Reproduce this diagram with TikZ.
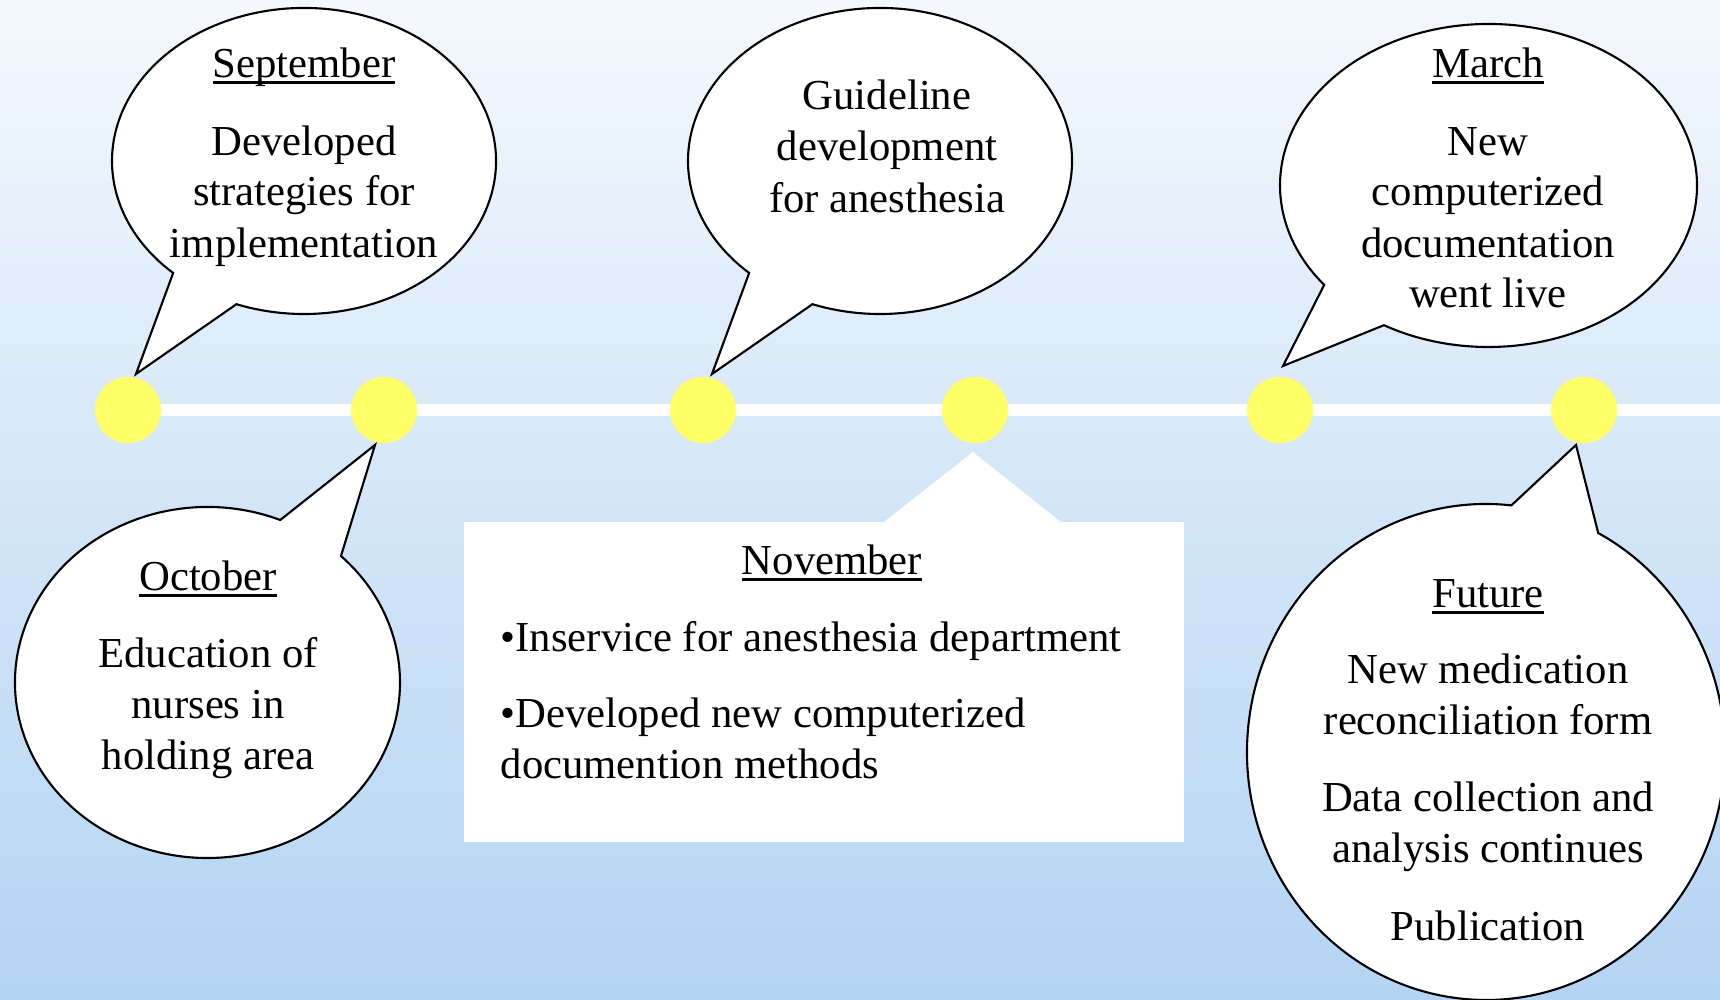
\documentclass[tikz,border=0pt]{standalone}
\usepackage{fontspec}
\setmainfont{Liberation Serif}
\definecolor{bgtop}{RGB}{244,248,253}
\definecolor{bgbot}{RGB}{179,212,243}
\definecolor{dotyellow}{RGB}{255,255,102}
\newcommand{\myul}[1]{\setbox0\hbox{#1}\rlap{\rule[-1.6pt]{\wd0}{0.6pt}}\box0}
\begin{document}
\begin{tikzpicture}[x=1mm,y=1mm,
  bubble/.style={draw=black, fill=white, line width=0.6pt, line join=miter},
  dot/.style={circle, fill=dotyellow, minimum size=6.6mm, inner sep=0pt},
  txt/.style={anchor=base, inner sep=0pt, yshift=-0.2mm, font=\fontsize{12.15}{14}\selectfont},
  txtl/.style={anchor=base west, inner sep=0pt, yshift=-0.2mm, font=\fontsize{12.15}{14}\selectfont}]
\useasboundingbox (0,0) rectangle (172,100);
\begin{scope}
\clip (0,0) rectangle (172,100);
\shade[top color=bgtop, bottom color=bgbot] (0,0) rectangle (172,100);
% timeline
\coordinate (c1) at (12.8,59);
\coordinate (c2) at (38.4,59);
\coordinate (c3) at (70.3,59);
\coordinate (c4) at (97.5,59);
\coordinate (c5) at (128.0,59);
\coordinate (c6) at (158.4,59);
\coordinate (lineend) at (172,59);
\draw[white, line width=1.2mm] (c1) -- (lineend);
\node[dot] (d1) at (c1) {};
\node[dot] (d2) at (c2) {};
\node[dot] (d3) at (c3) {};
\node[dot] (d4) at (c4) {};
\node[dot] (d5) at (c5) {};
\node[dot] (d6) at (c6) {};
% September bubble
\coordinate (sepc) at (30.4,83.9);
\coordinate (septip) at (13.6,62.6);
\draw[bubble] ([shift={(249.4:19.2mm and 15.3mm)}]sepc) arc[start angle=249.4, end angle=587.05, x radius=19.2mm, y radius=15.3mm] -- (septip) -- cycle;
\node[txt] (sep1) at (30.4,92.4) {\myul{September}};
\node[txt] (sep2) at (30.4,84.6) {Developed};
\node[txt] (sep3) at (30.4,79.6) {strategies for};
\node[txt] (sep4) at (30.4,74.4) {implementation};
% Guideline bubble
\coordinate (guic) at (88.0,83.9);
\coordinate (guitip) at (71.2,62.6);
\draw[bubble] ([shift={(249.4:19.2mm and 15.3mm)}]guic) arc[start angle=249.4, end angle=587.05, x radius=19.2mm, y radius=15.3mm] -- (guitip) -- cycle;
\node[txt] (gui1) at (88.7,89.2) {Guideline};
\node[txt] (gui2) at (88.7,84.1) {development};
\node[txt] (gui3) at (88.7,78.9) {for anesthesia};
% March bubble
\coordinate (marc) at (148.85,81.45);
\coordinate (martip) at (128.3,63.4);
\draw[bubble] ([shift={(239.9:20.85mm and 16.15mm)}]marc) arc[start angle=239.9, end angle=578.0, x radius=20.85mm, y radius=16.15mm] -- (martip) -- cycle;
\node[txt] (mar1) at (148.8,92.4) {\myul{March}};
\node[txt] (mar2) at (148.8,84.6) {New};
\node[txt] (mar3) at (148.8,79.6) {computerized};
\node[txt] (mar4) at (148.8,74.4) {documentation};
\node[txt] (mar5) at (148.8,69.4) {went live};
% October bubble
\coordinate (octc) at (20.75,31.75);
\coordinate (octtip) at (37.5,55.5);
\draw[bubble] ([shift={(67.8:19.25mm and 17.55mm)}]octc) arc[start angle=67.8, end angle=406.1, x radius=19.25mm, y radius=17.55mm] -- (octtip) -- cycle;
\node[txt] (oct1) at (20.8,41.1) {\myul{October}};
\node[txt] (oct2) at (20.8,33.4) {Education of};
\node[txt] (oct3) at (20.8,28.3) {nurses in};
\node[txt] (oct4) at (20.8,23.2) {holding area};
% November box
\node[fill=white, inner sep=0pt, minimum width=72mm, minimum height=32mm] (novbox) at (82.4,31.8) {};
\coordinate (novtip) at (97.3,54.8);
\fill[white] ([xshift=41.9mm,yshift=-0.2mm]novbox.north west) -- (novtip) -- ([xshift=59.9mm,yshift=-0.2mm]novbox.north west) -- cycle;
\node[txt] (nov1) at (83.2,42.7) {\myul{November}};
\node[txtl] (nov2) at (50.0,35.0) {•Inservice for anesthesia department};
\node[txtl] (nov3) at (50.0,27.4) {•Developed new computerized};
\node[txtl] (nov4) at (50.0,22.3) {documention methods};
% Future bubble
\coordinate (futc) at (148.6,24.8);
\coordinate (futtip) at (157.6,55.5);
\draw[bubble] ([shift={(83.9:23.9mm and 24.8mm)}]futc) arc[start angle=83.9, end angle=422.0, x radius=23.9mm, y radius=24.8mm] -- (futtip) -- cycle;
\node[txt] (fut1) at (148.8,39.4) {\myul{Future}};
\node[txt] (fut2) at (148.8,31.8) {New medication};
\node[txt] (fut3) at (148.8,26.7) {reconciliation form};
\node[txt] (fut4) at (148.8,19.0) {Data collection and};
\node[txt] (fut5) at (148.8,13.9) {analysis continues};
\node[txt] (fut6) at (148.8,6.1) {Publication};
\end{scope}
\end{tikzpicture}
\end{document}
